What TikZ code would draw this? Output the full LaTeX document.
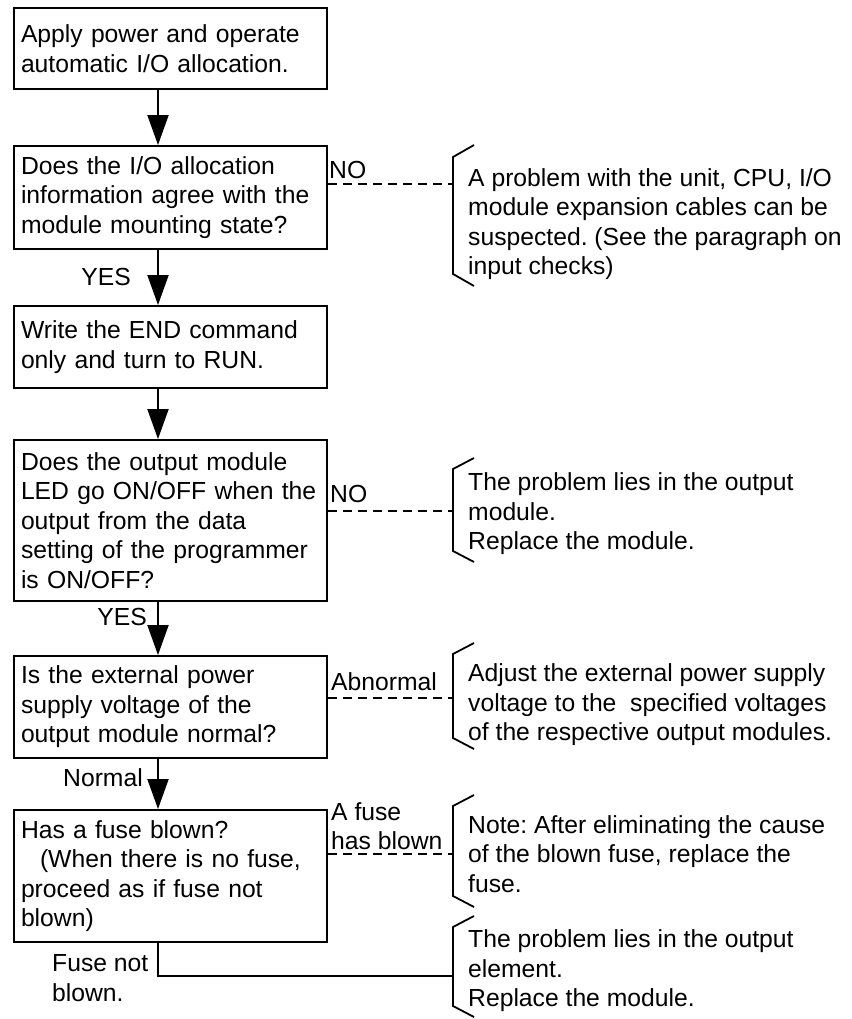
\documentclass[tikz,border=0pt]{standalone}
\usepackage{fontspec}
\setmainfont{Liberation Sans}
\usetikzlibrary{arrows.meta}
\frenchspacing
\begin{document}
\begin{tikzpicture}[x=1pt,y=-1pt,
  every node/.style={font=\fontsize{24.7}{29.5}\selectfont\frenchspacing, inner sep=0pt},
  box/.style={draw, line width=1.9pt, minimum width=313pt, text width=299pt,
    inner xsep=7pt, inner ysep=0pt, align=left},
  lbl/.style={anchor=west, align=left},
  note/.style={anchor=west, align=left},
  arr/.style={line width=1.9pt, -{Triangle[width=21pt,length=30pt]}},
  dline/.style={line width=2.4pt, dash pattern=on 9pt off 6pt},
  sline/.style={line width=1.9pt},
  bracket/.style={line width=1.8pt, line join=miter}]
\useasboundingbox (0,0) rectangle (851,1019);
\coordinate (ax) at (158,0);

% boxes
\node[box, minimum height=81pt]  (b1) at (170.5,48.5) {Apply power and operate\\automatic I/O allocation.};
\node[box, minimum height=103pt] (b2) at (170.5,197.5) {Does the I/O allocation\\information agree with the\\module mounting state?};
\node[box, minimum height=82pt]  (b3) at (170.5,347) {Write the END command\\only and turn to RUN.};
\node[box, minimum height=161pt] (b4) at (170.5,520.5) {Does the output module\\LED go ON/OFF when the\\output from the data\\setting of the programmer\\is ON/OFF?};
\node[box, minimum height=102pt] (b5) at (170.5,707) {Is the external power\\supply voltage of the\\output module normal?};
\node[box, minimum height=132pt] (b6) at (170.5,876) {Has a fuse blown?\\\hspace*{19pt}(When there is no fuse,\\proceed as if fuse not\\blown)};

% vertical arrows
\draw[arr] (b1.south -| ax) -- (b2.north -| ax);
\draw[arr] (b2.south -| ax) -- (b3.north -| ax);
\draw[arr] (b3.south -| ax) -- (b4.north -| ax);
\draw[arr] (b4.south -| ax) -- (b5.north -| ax);
\draw[arr] (b5.south -| ax) -- (b6.north -| ax);

% branch labels
\node[lbl] (l1) at (329,170) {NO};
\node[anchor=east] (l2) at (131,277) {YES};
\node[lbl] (l3) at (330,494) {NO};
\node[anchor=east] (l4) at (147,617) {YES};
\node[lbl] (l5) at (331,682) {Abnormal};
\node[anchor=east] (l6) at (143,778) {Normal};
\node[lbl] (l7) at (331,826) {A fuse\\has blown};
\node[lbl] (l8) at (52,978) {Fuse not\\blown.};

% attach points on brackets
\coordinate (c1) at (453,184);
\coordinate (c2) at (453,511);
\coordinate (c3) at (453,698);
\coordinate (c4) at (453,854);
\coordinate (c5) at (453,976);

% connectors
\draw[dline] (b2.east |- c1) -- (c1);
\draw[dline] (b4.east |- c2) -- (c2);
\draw[dline] (b5.east |- c3) -- (c3);
\draw[dline] (b6.east |- c4) -- (c4);
\draw[sline] (b6.south -| ax) |- (c5);

% brackets
\draw[bracket] (474,145) -- (453,157) -- (453,274) -- (474,286);
\draw[bracket] (474,458) -- (453,469) -- (453,551) -- (474,562);
\draw[bracket] (474,643) -- (453,654) -- (453,738) -- (474,749);
\draw[bracket] (474,795) -- (453,806) -- (453,896) -- (474,907);
\draw[bracket] (474,916) -- (453,927) -- (453,1006) -- (474,1017);

% notes
\node[note] (n1) at (468,224) {A problem with the unit, CPU, I/O\\module expansion cables can be\\suspected. (See the paragraph on\\input checks)};
\node[note] (n2) at (468,514) {The problem lies in the output\\module.\\Replace the module.};
\node[note] (n3) at (468,705) {Adjust the external power supply\\voltage to the\ \ specified voltages\\of the respective output modules.};
\node[note] (n4) at (468,854) {Note: After eliminating the cause\\of the blown fuse, replace the\\fuse.};
\node[note] (n5) at (468,971) {The problem lies in the output\\element.\\Replace the module.};
\end{tikzpicture}
\end{document}
